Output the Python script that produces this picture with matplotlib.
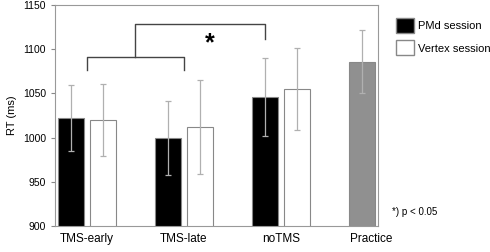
import numpy as np
import matplotlib
matplotlib.use("Agg")
import matplotlib.pyplot as plt
from matplotlib.patches import Patch

conditions = ["TMS-early", "TMS-late", "noTMS"]
pmd_rt = [1022, 1000, 1046]
pmd_err = [37, 42, 44]
vertex_rt = [1020, 1012, 1055]
vertex_err = [41, 53, 46]
practice_rt = 1086
practice_err = 36

plt.rcParams["font.family"] = ["Liberation Sans", "DejaVu Sans"]

fig = plt.figure(figsize=(4.9, 2.52), dpi=100)
ax = fig.add_axes([0.112, 0.103, 0.659, 0.877])

x = np.arange(len(conditions))
w = 0.27
off = 0.165
err_kw = dict(ecolor="#b0b0b0", elinewidth=0.9, capsize=2.5, capthick=0.9)

ax.bar(x - off, pmd_rt, w, color="black", edgecolor="#888888",
       linewidth=0.8, yerr=pmd_err, error_kw=err_kw, label="PMd session")
ax.bar(x + off, vertex_rt, w, color="white", edgecolor="#888888",
       linewidth=0.8, yerr=vertex_err, error_kw=err_kw, label="Vertex session")
ax.bar(3 - off, practice_rt, w, color="#909090", edgecolor="#888888",
       linewidth=0.8, yerr=practice_err, error_kw=err_kw)

ax.set_xlim(-0.33, 3.0)
ax.set_ylim(900, 1150)
ax.set_yticks(np.arange(900, 1151, 50))
ax.set_xticks([0, 1, 2, 2.93])
ax.set_xticklabels(conditions + ["Practice"], fontsize=8.5)
ax.tick_params(axis="x", length=0, pad=5)
ax.tick_params(axis="y", labelsize=7.5, length=3, color="#888888")
ax.set_ylabel("RT (ms)", fontsize=8)
for s in ax.spines.values():
    s.set_color("#999999")
    s.set_linewidth(0.8)

# significance brackets
bc = "#444444"
ax.plot([0, 0, 1, 1], [1076, 1091, 1091, 1076], color=bc, lw=1)
ax.plot([0.5, 0.5, 2 - off, 2 - off], [1091, 1129, 1129, 1112], color=bc, lw=1)
ax.text(1.27, 1107, "*", fontsize=18, fontweight="bold", ha="center", va="center")

fig.legend(handles=[Patch(facecolor="black", edgecolor="#888888", label="PMd session"),
                    Patch(facecolor="white", edgecolor="#888888", label="Vertex session")],
           loc="upper left", bbox_to_anchor=(0.79, 0.965), frameon=False,
           fontsize=8, handlelength=1.6, handleheight=1.7, labelspacing=0.7,
           handletextpad=0.4, borderpad=0.3)
fig.text(0.80, 0.145, "*) p < 0.05", fontsize=7)

fig.savefig("out.png", dpi=100)
